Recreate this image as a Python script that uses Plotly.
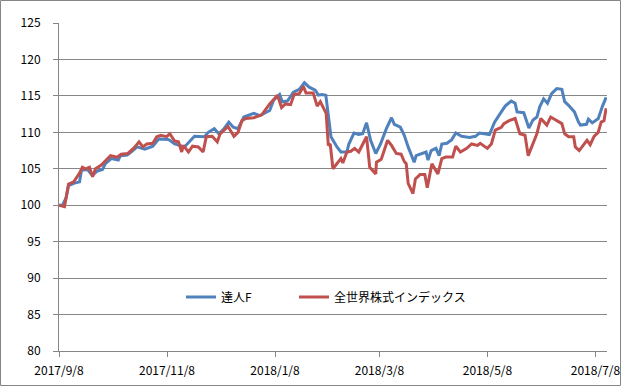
import pandas as pd
import plotly.graph_objects as go

start_date = "2017-09-08"

# 達人F : day offsets from start and index values
tatsujin_days = [0, 2, 4, 5.4, 8.3, 11.6, 12.7, 16.1, 18.8, 21.7, 24.6, 26.2, 29.5, 33.5, 34.7,
                 38.5, 40.7, 44.1, 48.5, 53.0, 56.4, 62.0, 65.3, 70.9, 76.5, 82.1, 84.3, 87.7,
                 90.3, 93.2, 95.9, 98.4, 101.1, 104.4, 110.0, 113.4, 119.0, 121.2, 124.6, 126.1,
                 129.0, 132.4, 135.7, 138.6, 141.3, 144.7, 146.5, 148.5, 150.7, 152.1, 153.6,
                 157.0, 159.2, 162.6, 163.7, 166.6, 169.3, 171.5, 173.7, 176.0, 178.9, 181.6,
                 184.9, 187.8, 189.4, 192.8, 195.0, 197.2, 200.6, 201.7, 207.3, 208.4, 210.2,
                 212.9, 214.7, 216.2, 219.1, 221.8, 224.1, 227.4, 231.9, 235.2, 237.5, 243.1,
                 246.0, 249.8, 252.0, 255.4, 257.6, 258.7, 262.5, 265.4, 267.7, 269.9, 271.5,
                 273.7, 275.9, 278.2, 281.1, 284.0, 285.6, 287.8, 291.1, 293.4, 294.5, 297.9,
                 299.0, 301.2, 304.6, 306.8, 309.0]
tatsujin_vals = [100, 100, 101, 102.7, 103, 103.2, 104.8, 104.9, 104.1, 104.7, 104.9, 105.7, 106.4,
                 106.2, 106.8, 106.9, 107.3, 108, 107.7, 108.1, 109.1, 109, 108.4, 108.0, 109.45,
                 109.4, 110, 110.5, 109.8, 110.5, 111.4, 110.7, 110.5, 112.1, 112.6, 112.3, 113,
                 114.4, 115.2, 114.2, 114.3, 115.5, 115.9, 116.8, 116.2, 115.8, 115.1, 115.2,
                 115.1, 112.1, 109.4, 108, 107.3, 107.3, 108.4, 109.9, 109.7, 109.8, 111.3, 108.9,
                 107.1, 108.4, 110.5, 112, 111.1, 110.7, 109.6, 108, 105.9, 106.8, 107.3, 106.2,
                 107.5, 107.8, 106.8, 108.4, 108.5, 109.0, 109.9, 109.45, 109.3, 109.45, 109.9,
                 109.7, 111.4, 112.8, 113.6, 114.3, 114.0, 112.8, 112.7, 110.6, 111.7, 112.1,
                 113.5, 114.6, 114.0, 115.3, 116, 115.9, 114.2, 113.7, 112.8, 111.4, 111, 111.1,
                 111.8, 111.3, 111.9, 113.5, 114.8]

# 全世界株式インデックス
world_days = [0, 3.1, 5.4, 8.3, 11.6, 13.2, 15.0, 17.2, 19.0, 20.6, 23.9, 25.5, 29.1, 32.9, 35.1,
              38.9, 42.5, 45.2, 47.4, 49.6, 53.0, 55.2, 57.5, 60.8, 62.6, 65.3, 67.5, 69.3, 70.2,
              73.1, 75.4, 78.7, 81.4, 83.2, 86.5, 89.4, 91.0, 95.5, 98.8, 101.1, 103.3, 105.5,
              110.0, 114.5, 119.0, 123.4, 125.7, 127.9, 130.8, 132.8, 135.7, 138.0, 139.5, 143.6,
              145.8, 147.6, 150.9, 152.1, 153.2, 154.7, 157.0, 159.2, 160.3, 162.6, 164.8, 167.0,
              169.3, 172.2, 173.7, 175.5, 178.9, 179.3, 182.0, 185.6, 187.8, 190.5, 193.2, 195.0,
              196.1, 197.2, 199.9, 201.3, 203.9, 206.6, 208.0, 210.6, 214.0, 216.2, 218.5, 222.3,
              224.1, 226.7, 230.3, 233.0, 236.4, 237.9, 241.9, 244.2, 246.4, 249.8, 251.3, 254.2,
              257.6, 260.3, 263.2, 265.0, 267.0, 269.9, 272.1, 273.7, 275.5, 277.7, 281.1, 284.0,
              285.6, 287.8, 290.7, 291.6, 293.8, 295.6, 298.2, 300.0, 302.2, 304.5, 306.2, 307.8,
              309.0]
world_vals = [100, 99.8, 102.9, 103.2, 104.4, 105.2, 105, 105.2, 103.9, 105, 105.5, 105.9, 106.8,
              106.6, 107, 107.1, 107.9, 108.7, 108, 108.4, 108.5, 109.4, 109.6, 109.4, 109.8,
              108.8, 108.7, 107.3, 108.2, 107.3, 108.1, 108, 107.3, 109.4, 109.45, 108.7, 109.8,
              110.8, 109.45, 110, 111.6, 111.9, 112, 112.4, 113.9, 115.1, 113.4, 113.9, 113.8,
              115.2, 115.3, 116.3, 115.4, 115.4, 113.6, 114.2, 112.6, 108.2, 108.4, 105, 105.8,
              106.4, 105.8, 107.3, 107.4, 107.8, 107.3, 108.7, 109.4, 105.2, 104.3, 105.9, 106.3,
              108.9, 108.2, 107.1, 107, 106.0, 105.7, 103, 101.6, 103.6, 104.2, 104.2, 102.4,
              105.7, 104.3, 106.4, 106.6, 106.6, 108.1, 107.3, 107.8, 108.4, 108.2, 108.5, 107.8,
              108.4, 110.3, 110.7, 111.2, 111.6, 111.9, 109.8, 109.6, 106.8, 108, 109.8, 111.9,
              111.4, 111, 112.1, 111.6, 111.2, 109.8, 109.4, 109.4, 108, 107.5, 108.1, 108.9,
              108.3, 109.45, 110, 111.4, 111.6, 113.3]

tick_dates = ["2017-09-08", "2017-11-08", "2018-01-08", "2018-03-08", "2018-05-08", "2018-07-08"]
tick_labels = ["2017/9/8", "2017/11/8", "2018/1/8", "2018/3/8", "2018/5/8", "2018/7/8"]
y_ticks = [80, 85, 90, 95, 100, 105, 110, 115, 120, 125]

t0 = pd.Timestamp(start_date)
x_blue = t0 + pd.to_timedelta(tatsujin_days, unit="D")
x_red = t0 + pd.to_timedelta(world_days, unit="D")

W, H = 621, 386
ML, MR, MT, MB = 59, 14, 23, 35
PW, PH = W - ML - MR, H - MT - MB

grid = "#868686"
font_fam = "Noto Sans CJK JP, DejaVu Sans, sans-serif"

fig = go.Figure()
fig.add_trace(go.Scatter(x=x_blue, y=tatsujin_vals, mode="lines", name="達人F",
                         line=dict(color="#4F81BD", width=3), legend="legend"))
fig.add_trace(go.Scatter(x=x_red, y=world_vals, mode="lines", name="全世界株式インデックス",
                         line=dict(color="#C0504D", width=3), legend="legend2"))

leg_common = dict(orientation="h", xanchor="left", yanchor="middle",
                  y=(H - MB - 297) / PH, bgcolor="rgba(0,0,0,0)",
                  font=dict(size=12, family=font_fam))

fig.update_layout(
    width=W, height=H,
    margin=dict(l=ML, r=MR, t=MT, b=MB, autoexpand=False),
    paper_bgcolor="white", plot_bgcolor="white",
    font=dict(family=font_fam, size=12, color="black"),
    showlegend=True,
    legend=dict(x=(181 - ML) / PW, **leg_common),
    legend2=dict(x=(294 - ML) / PW, **leg_common),
    xaxis=dict(type="date", range=[t0, t0 + pd.Timedelta(days=309.5)],
               tickvals=tick_dates, ticktext=tick_labels, automargin=False,
               showgrid=False, showline=True, linecolor=grid, linewidth=1,
               ticks="outside", ticklen=5, tickcolor=grid, zeroline=False,
               tickfont=dict(size=12), ticklabelstandoff=4),
    yaxis=dict(range=[80, 125], tickvals=y_ticks, showgrid=True, gridcolor=grid, gridwidth=1,
               showline=True, linecolor=grid, linewidth=1, ticks="outside", ticklen=5,
               tickcolor=grid, zeroline=False, tickfont=dict(size=12), ticklabelstandoff=10,
               automargin=False),
    shapes=[dict(type="rect", xref="paper", yref="paper",
                 x0=-(ML - 0.5) / PW, x1=1 + (MR - 0.5) / PW,
                 y0=-(MB - 0.5) / PH, y1=1 + (MT - 0.5) / PH,
                 line=dict(color=grid, width=1), layer="below")],
)

fig.write_html("out.html", config={"displayModeBar": False},
               post_script="document.body.style.margin='0';document.body.style.overflow='hidden';")
